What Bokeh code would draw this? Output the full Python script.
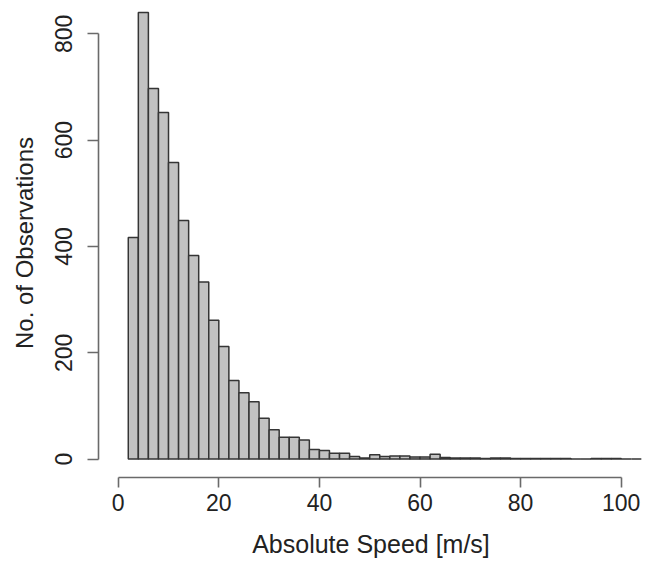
from bokeh.plotting import figure
from bokeh.models import ColumnDataSource, FixedTicker, Range1d, Label
from bokeh.embed import file_html
from bokeh.resources import INLINE

# Histogram data (bins of width 2 m/s)
bin_left = [2, 4, 6, 8, 10, 12, 14, 16, 18, 20, 22, 24, 26, 28, 30, 32, 34, 36, 38, 40,
            42, 44, 46, 48, 50, 52, 54, 56, 58, 60, 62, 64, 66, 68, 70, 72, 74, 76, 78, 80,
            82, 84, 86, 88, 90, 92, 94, 96, 98, 100, 102]
bin_right = [4, 6, 8, 10, 12, 14, 16, 18, 20, 22, 24, 26, 28, 30, 32, 34, 36, 38, 40, 42,
             44, 46, 48, 50, 52, 54, 56, 58, 60, 62, 64, 66, 68, 70, 72, 74, 76, 78, 80, 82,
             84, 86, 88, 90, 92, 94, 96, 98, 100, 102, 104]
counts = [417, 840, 697, 652, 558, 449, 383, 333, 261, 212, 148, 125, 108, 77, 55, 41, 41, 36, 18, 16,
          11, 11, 5, 2, 8, 5, 6, 6, 4, 4, 9, 3, 2, 2, 2, 1, 2, 2, 1, 1,
          1, 1, 1, 1, 0, 0, 1, 1, 1, 0, 0]
bottoms = [0] * len(counts)

x_ticks = [0, 20, 40, 60, 80, 100]
y_ticks = [0, 200, 400, 600, 800]

FONT = "Liberation Sans"

src = ColumnDataSource(dict(left=bin_left, right=bin_right, top=counts, bottom=bottoms))

p = figure(width=643, height=580, output_backend="svg", toolbar_location=None,
           x_range=Range1d(-3.92, 104.43), y_range=Range1d(-34.6, 847.6),
           min_border_left=98, min_border_right=0, min_border_top=8, min_border_bottom=103)
p.outline_line_color = None
p.xgrid.visible = False
p.ygrid.visible = False

p.quad(left="left", right="right", top="top", bottom="bottom", source=src,
       fill_color="#c2c2c2", line_color="#353535", line_width=1.5)

for ax, ticks in ((p.xaxis[0], x_ticks), (p.yaxis[0], y_ticks)):
    ax.ticker = FixedTicker(ticks=ticks)
    ax.bounds = (ticks[0], ticks[-1])
    ax.axis_line_color = "#6a6a6a"
    ax.axis_line_width = 1.6
    ax.major_tick_line_color = "#6a6a6a"
    ax.major_tick_line_width = 1.6
    ax.major_tick_in = 0
    ax.minor_tick_line_color = None
    ax.major_label_text_font = FONT
    ax.major_label_text_font_size = "23px"
    ax.major_label_text_color = "#222222"
    ax.axis_label_text_font = FONT
    ax.axis_label_text_font_style = "normal"
    ax.axis_label_text_color = "#222222"

p.xaxis.major_tick_out = 10
p.xaxis.major_label_standoff = 6
p.xaxis.axis_label = "Absolute Speed [m/s]"
p.xaxis.axis_label_standoff = 16
p.xaxis.axis_label_text_font_size = "25px"

p.yaxis.major_tick_out = 11
p.yaxis.major_label_orientation = "vertical"
p.yaxis.major_label_standoff = 15
p.yaxis.axis_label = "No. of Observations"
p.yaxis.axis_label_standoff = 15
p.yaxis.axis_label_text_font_size = "24px"

# panel letter (size avoids the "N00px" pattern)
p.add_layout(Label(x=-18.8, y=-223, text="b", text_font=FONT, text_font_style="bold",
                   text_font_size="98px", text_color="#222222",
                   text_baseline="alphabetic", text_align="left"))

open("out.html", "w").write(file_html(p, INLINE))
